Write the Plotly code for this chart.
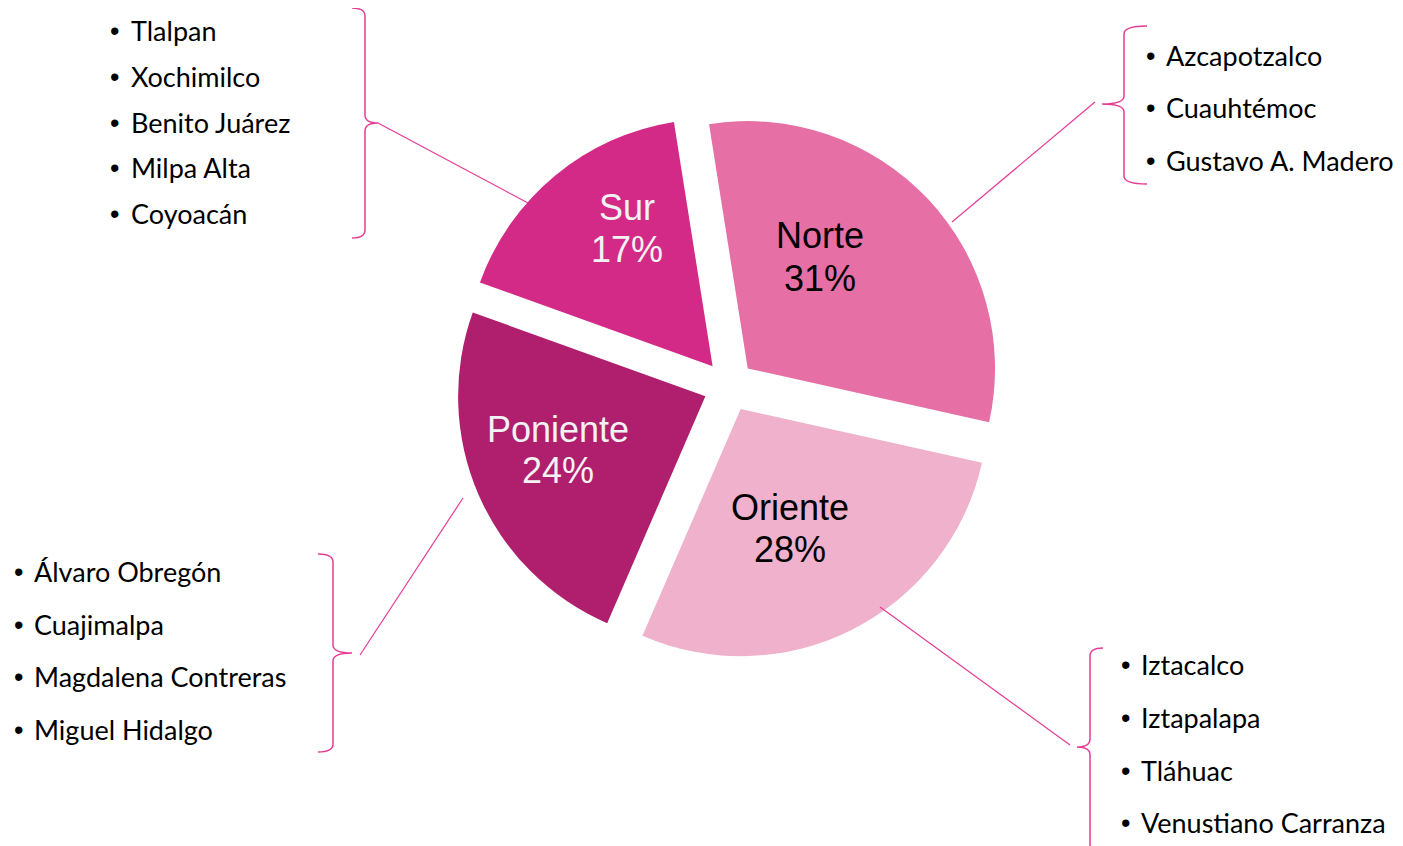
import plotly.graph_objects as go

# ---- data ----
regions = ["Norte", "Oriente", "Poniente", "Sur"]
shares = [31, 28, 24, 17]
slice_colors = ["#E66FA6", "#EFB1CB", "#B01F6E", "#D42A87"]
label_colors = ["#000000", "#000000", "#F2F2F2", "#F2F2F2"]

norte_list = ["Azcapotzalco", "Cuauhtémoc", "Gustavo A. Madero"]
oriente_list = ["Iztacalco", "Iztapalapa", "Tláhuac", "Venustiano Carranza"]
poniente_list = ["Álvaro Obregón", "Cuajimalpa", "Magdalena Contreras", "Miguel Hidalgo"]
sur_list = ["Tlalpan", "Xochimilco", "Benito Juárez", "Milpa Alta", "Coyoacán"]

# label block centres inside the slices (page pixels) - layout only
label_pos = {"Norte": (820, 257), "Oriente": (790, 528), "Poniente": (558, 450), "Sur": (627, 228)}

W, H = 1403, 846
OFF = 8  # page body margin
LINE = "#E63C96"


def X(x):
    return (x - OFF) / W


def Y(y):
    return 1 - (y - OFF) / H


fig = go.Figure()

cx, cy, half = 729, 386, 273
fig.add_trace(go.Pie(
    labels=regions,
    values=shares,
    sort=False,
    direction="clockwise",
    rotation=-9,
    pull=[0.104] * 4,
    marker=dict(colors=slice_colors, line=dict(width=0)),
    textinfo="none",
    showlegend=False,
    hoverinfo="label+percent",
    domain=dict(x=[X(cx - half), X(cx + half)], y=[Y(cy + half), Y(cy - half)]),
))

shapes = []
annotations = []

total = sum(shares)
for reg, val, col in zip(regions, shares, label_colors):
    lx, ly = label_pos[reg]
    for txt, dy in ((reg, -21), (f"{round(100 * val / total)}%", 21)):
        annotations.append(dict(
            text=txt, x=X(lx), y=Y(ly + dy), xref="paper", yref="paper",
            xanchor="center", yanchor="middle", showarrow=False,
            font=dict(family="Liberation Sans, Arial", size=36, color=col),
        ))


def brace(xv, top, bottom, mid, tip_dx, point_dx, r=8):
    xt = xv + tip_dx
    xp = xv + point_dx
    p = (
        f"M {X(xt)},{Y(top)} "
        f"Q {X(xv)},{Y(top)} {X(xv)},{Y(top + r)} "
        f"L {X(xv)},{Y(mid - r)} "
        f"Q {X(xv)},{Y(mid)} {X(xp)},{Y(mid)} "
        f"Q {X(xv)},{Y(mid)} {X(xv)},{Y(mid + r)} "
        f"L {X(xv)},{Y(bottom - r)} "
        f"Q {X(xv)},{Y(bottom)} {X(xt)},{Y(bottom)}"
    )
    shapes.append(dict(type="path", path=p, xref="paper", yref="paper",
                       line=dict(color=LINE, width=1.5)))


def leader(x0, y0, x1, y1):
    shapes.append(dict(type="line", xref="paper", yref="paper",
                       x0=X(x0), y0=Y(y0), x1=X(x1), y1=Y(y1),
                       line=dict(color=LINE, width=1.2)))


def bullets(items, xb, xt, y0, dy):
    for i, t in enumerate(items):
        y = y0 + i * dy
        annotations.append(dict(
            text="•", x=X(xb), y=Y(y - 1), xref="paper", yref="paper",
            xanchor="center", yanchor="middle", showarrow=False,
            font=dict(family="Liberation Sans, Arial", size=27, color="#000000"),
        ))
        annotations.append(dict(
            text=t, x=X(xt), y=Y(y - 1.5), xref="paper", yref="paper",
            xanchor="left", yanchor="middle", showarrow=False,
            font=dict(family="Lato, Carlito, sans-serif", size=27, color="#000000"),
        ))


# Sur (top-left)
bullets(sur_list, 115, 129, 32, 45.8)
brace(365, 8, 238, 123, -13, 13)
leader(378, 123, 528, 203)

# Norte (top-right)
bullets(norte_list, 1150, 1164, 57, 52.5)
brace(1124, 26, 184, 104, 23, -22)
leader(1095, 102, 952, 222)

# Poniente (bottom-left)
bullets(poniente_list, 18, 32, 573, 52.7)
brace(333, 554, 752, 653, -15, 19)
leader(360, 655, 463, 498)

# Oriente (bottom-right)
bullets(oriente_list, 1125, 1139, 666, 52.8)
brace(1090, 648, 900, 747, 13, -13)
leader(1070, 745, 880, 607)

fig.update_layout(
    width=W, height=H,
    margin=dict(l=0, r=0, t=0, b=0),
    paper_bgcolor="white",
    plot_bgcolor="white",
    shapes=shapes,
    annotations=annotations,
)

fig.write_html("out.html")
